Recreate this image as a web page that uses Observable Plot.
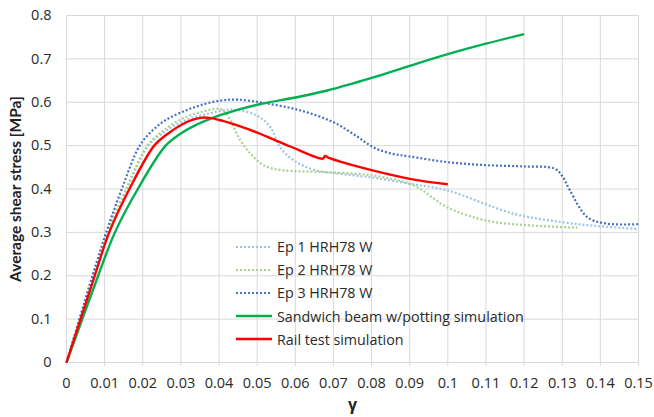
<!DOCTYPE html>
<html>
<head>
<meta charset="utf-8">
<script src="https://cdn.jsdelivr.net/npm/d3@7"></script>
<script src="https://cdn.jsdelivr.net/npm/@observablehq/plot@0.6"></script>
<style>
  html, body { margin: 0; padding: 0; background: #fff; }
  #wrap { position: relative; width: 654px; height: 417px; font-family: "Open Sans", sans-serif; }
  #legend { position: absolute; left: 236px; top: 235px; font-size: 14.3px; color: #2a2a2a; }
  #legend .row { display: flex; align-items: center; height: 23.2px; }
  #legend svg { margin-right: 5px; }
</style>
</head>
<body>
<div id="wrap"></div>
<script>
// ---- data ----
const seriesNames = ["Ep 1 HRH78 W", "Ep 2 HRH78 W", "Ep 3 HRH78 W", "Sandwich beam w/potting simulation", "Rail test simulation"];
const seriesColors = ["#9dc3e6", "#a9d18e", "#4472c4", "#00b050", "#ff0000"];
const seriesDashed = [true, true, true, false, false];

const ep1Gamma  = [0, 0.0072, 0.0109, 0.0158, 0.0215, 0.0255, 0.0305, 0.0378, 0.044, 0.05, 0.0535, 0.056, 0.0596, 0.0649, 0.0719, 0.0806, 0.09, 0.0998, 0.1173, 0.1304, 0.14, 0.15];
const ep1Stress = [0, 0.2, 0.3, 0.4, 0.5, 0.53, 0.556, 0.575, 0.583, 0.569, 0.542, 0.496, 0.466, 0.444, 0.435, 0.426, 0.412, 0.397, 0.343, 0.323, 0.314, 0.308];

const ep2Gamma  = [0, 0.007, 0.0107, 0.0156, 0.0212, 0.025, 0.0303, 0.0355, 0.04, 0.0415, 0.043, 0.0456, 0.0483, 0.0518, 0.057, 0.0675, 0.0805, 0.0911, 0.0998, 0.1103, 0.1217, 0.134];
const ep2Stress = [0, 0.2, 0.3, 0.4, 0.5, 0.532, 0.562, 0.578, 0.585, 0.578, 0.558, 0.512, 0.481, 0.454, 0.443, 0.439, 0.431, 0.408, 0.358, 0.327, 0.316, 0.311];

const ep3Gamma  = [0, 0.0068, 0.0104, 0.0145, 0.0192, 0.0228, 0.0264, 0.031, 0.0351, 0.0404, 0.045, 0.0526, 0.0614, 0.07, 0.0762, 0.0805, 0.085, 0.09, 0.0998, 0.11, 0.12, 0.128, 0.13, 0.132, 0.1366, 0.1418, 0.15];
const ep3Stress = [0, 0.2, 0.3, 0.4, 0.5, 0.537, 0.561, 0.58, 0.593, 0.604, 0.606, 0.597, 0.581, 0.554, 0.521, 0.496, 0.482, 0.475, 0.462, 0.455, 0.452, 0.447, 0.43, 0.397, 0.335, 0.32, 0.319];

const sandGamma  = [0, 0.0083, 0.0127, 0.0187, 0.026, 0.03, 0.0336, 0.0378, 0.0413, 0.0509, 0.06, 0.0684, 0.08, 0.09, 0.1, 0.11, 0.12];
const sandStress = [0, 0.2, 0.3, 0.4, 0.5, 0.528, 0.546, 0.562, 0.573, 0.596, 0.611, 0.627, 0.656, 0.684, 0.711, 0.735, 0.757];

const railGamma  = [0, 0.0074, 0.0112, 0.0165, 0.023, 0.0265, 0.0317, 0.035, 0.0375, 0.041, 0.045, 0.05, 0.0587, 0.0672, 0.0678, 0.069, 0.0762, 0.09, 0.1];
const railStress = [0, 0.2, 0.3, 0.4, 0.5, 0.527, 0.555, 0.564, 0.564, 0.557, 0.546, 0.53, 0.498, 0.47, 0.476, 0.471, 0.452, 0.4235, 0.411];

const xTicks = [0, 0.01, 0.02, 0.03, 0.04, 0.05, 0.06, 0.07, 0.08, 0.09, 0.1, 0.11, 0.12, 0.13, 0.14, 0.15];
const yTicks = [0, 0.1, 0.2, 0.3, 0.4, 0.5, 0.6, 0.7, 0.8];
const xTitle = "γ";
const yTitle = "Average shear stress [MPa]";

// ---- build table ----
const allGamma = [ep1Gamma, ep2Gamma, ep3Gamma, sandGamma, railGamma];
const allStress = [ep1Stress, ep2Stress, ep3Stress, sandStress, railStress];
const tables = allGamma.map((g, i) => g.map((x, j) => ({x, y: allStress[i][j], s: seriesNames[i]})));

const fmt = d => String(+d.toFixed(2));

const marks = [
  Plot.gridX(xTicks, {stroke: "#d9d9d9", strokeOpacity: 1, strokeWidth: 1}),
  Plot.gridY(yTicks, {stroke: "#d9d9d9", strokeOpacity: 1, strokeWidth: 1}),
  Plot.axisX(xTicks, {tickFormat: fmt, tickSize: 4, tickPadding: 11, stroke: "#d9d9d9", fill: "#2a2a2a", fontSize: 14.5, label: null}),
  Plot.axisY(yTicks, {tickFormat: fmt, tickSize: 0, tickPadding: 15, fill: "#2a2a2a", fontSize: 14.5, label: null}),
  Plot.text([xTitle], {frameAnchor: "bottom", dy: 47, text: d => d, fontSize: 16, fontWeight: "bold", fill: "#222"}),
  Plot.text([yTitle], {frameAnchor: "left", dx: -50, rotate: -90, textAnchor: "middle", text: d => d, fontFamily: "Lato", fontSize: 15.5, fontWeight: "bold", fill: "#222"})
];
[0, 1, 2, 3, 4].forEach(i => {
  marks.push(Plot.line(tables[i], {
    x: "x", y: "y",
    stroke: seriesColors[i],
    strokeWidth: seriesDashed[i] ? 2.2 : 2.4,
    strokeDasharray: seriesDashed[i] ? "2,2" : null,
    strokeLinecap: "butt",
    curve: "catmull-rom"
  }));
});

const chart = Plot.plot({
  width: 654,
  height: 417,
  marginLeft: 66,
  marginRight: 16,
  marginTop: 15,
  marginBottom: 55,
  x: {domain: [0, 0.15]},
  y: {domain: [0, 0.8]},
  style: {fontFamily: "Open Sans, sans-serif", fontSize: "14px", color: "#2a2a2a", background: "transparent", overflow: "visible"},
  marks
});

const wrap = document.getElementById("wrap");
wrap.appendChild(chart);

// legend
const legend = document.createElement("div");
legend.id = "legend";
seriesNames.forEach((name, i) => {
  const row = document.createElement("div");
  row.className = "row";
  const dash = seriesDashed[i] ? 'stroke-dasharray="2,2"' : '';
  row.innerHTML = `<svg width="36" height="6"><line x1="0" y1="3" x2="36" y2="3" stroke="${seriesColors[i]}" stroke-width="${seriesDashed[i] ? 2.2 : 2.4}" ${dash}/></svg><span>${name}</span>`;
  legend.appendChild(row);
});
wrap.appendChild(legend);
</script>
</body>
</html>
